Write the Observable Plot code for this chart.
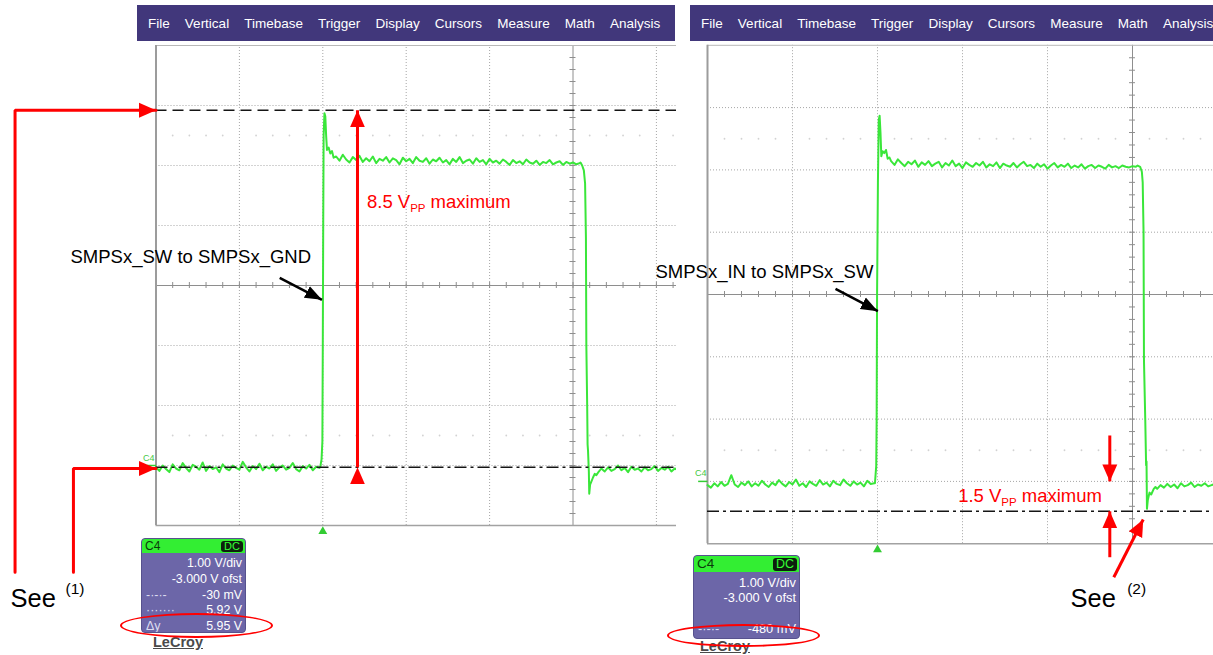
<!DOCTYPE html>
<html>
<head>
<meta charset="utf-8">
<title>SMPSx switching node waveforms</title>
<script src="https://cdn.jsdelivr.net/npm/d3@7"></script>
<script src="https://cdn.jsdelivr.net/npm/@observablehq/plot@0.6"></script>
<style>
  html,body{margin:0;padding:0;background:#fff;}
  #page{position:relative;width:1213px;height:655px;overflow:hidden;background:#fff;font-family:"Liberation Sans",Arial,Helvetica,sans-serif;}
  .menubar{position:absolute;top:5px;height:36px;background:#41377b;display:flex;align-items:center;gap:15.1px;padding-left:11px;box-sizing:border-box;color:#fff;font-size:13.5px;white-space:nowrap;overflow:hidden;}
  .layer{position:absolute;left:0;top:0;height:655px;overflow:hidden;}
  .scope-box{position:absolute;background:#6c66a8;border:1px solid #57528e;border-radius:4px;box-sizing:border-box;color:#fff;overflow:hidden;}
  .scope-box .hdr{position:absolute;left:0;right:0;top:0;background:#33ee33;border-radius:3px 3px 0 0;}
  .scope-box .ch{position:absolute;left:3px;top:0;color:#0b3a0b;}
  .scope-box .dc{position:absolute;right:2px;top:2px;background:#0d1f0d;color:#3f3;border-radius:3px;padding:0 3px;}
  .scope-box .row{position:absolute;left:4px;right:3px;white-space:nowrap;}
  .scope-box .row .l{position:absolute;left:0;top:0;color:#dcdcf0;}
  .scope-box .row .r{position:absolute;right:0;top:0;}
  .lecroy{position:absolute;font-weight:bold;color:#4a4a4a;text-decoration:underline;white-space:nowrap;}
  .ring{position:absolute;border:2.5px solid #f00;border-radius:50%;box-sizing:border-box;}
</style>
</head>
<body>
<div id="page">
  <div class="menubar" id="menuL" style="left:137px;width:538px"></div>
  <div class="menubar" id="menuR" style="left:690px;width:523px"></div>
  <div class="layer" id="leftWrap" style="width:676px"></div>
  <div class="layer" id="rightWrap" style="width:1213px"></div>
</div>
<script>
// ================= DATA =================
const menuItems = ["File","Vertical","Timebase","Trigger","Display","Cursors","Measure","Math","Analysis"];
const channelName = "C4";
const coupling = "DC";
const leftBoxRows = [["", "1.00 V/div"], ["", "-3.000 V ofst"], ["-·-·-", "-30 mV"], ["·······", "5.92 V"], ["Δy", "5.95 V"]];
const rightBoxRows = [["", "1.00 V/div"], ["", "-3.000 V ofst"], ["-·-·-", "-480 mV"]];
const brand = "LeCroy";

// time in divisions, voltage in V (1.00 V/div, -3.000 V offset)
const sampleStep = 0.04;

// Left capture: SMPSx_SW to SMPSx_GND
const leftLowStart = 0;
const leftLow = [-0.03,-0.09,0.00,-0.06,-0.11,0.02,-0.05,-0.08,0.04,-0.04,-0.10,0.01,-0.02,-0.07,0.05,-0.09,-0.01,-0.06,-0.03,-0.11,0.02,-0.05,-0.08,0.00,-0.04,-0.07,0.06,-0.03,-0.10,-0.01,-0.06,0.03,-0.08,-0.02,-0.05,0.02,-0.09,-0.03,0.00,-0.07,-0.04,0.04,-0.06,-0.10,-0.01,-0.05,0.01,-0.08,-0.02,-0.04];
const leftRise = [[1.97,-0.02],[1.985,0.1],[1.995,0.4],[2.0,2.0],[2.005,4.0],[2.01,5.5],[2.02,5.87],[2.03,5.82],[2.04,5.5],[2.05,5.26],[2.07,5.30],[2.09,5.20],[2.11,5.24],[2.13,5.13]];
const leftHighStart = 2.16;
const leftHigh = [5.15,5.08,5.18,5.10,5.05,5.14,5.09,5.16,5.06,5.12,5.07,5.15,5.04,5.11,5.08,5.14,5.05,5.12,5.09,5.02,5.13,5.07,5.11,5.04,5.14,5.08,5.06,5.12,5.03,5.10,5.07,5.13,5.05,5.09,5.02,5.11,5.06,5.14,5.04,5.08,5.10,5.03,5.12,5.06,5.09,5.02,5.11,5.05,5.08,5.03,5.10,5.06,5.01,5.09,5.04,5.07,5.02,5.10,5.05,5.03,5.08,5.01,5.06,5.04,5.09,5.02,5.05,5.07,5.01,5.06,5.03,5.05,5.02,5.04];
const leftFall = [[5.09,5.05],[5.11,5.00],[5.13,4.92],[5.145,4.7],[5.155,3.8],[5.16,2.0],[5.17,1.0],[5.175,0.35],[5.18,0.25],[5.19,-0.1],[5.195,-0.47],[5.205,-0.32],[5.22,-0.27],[5.24,-0.2],[5.26,-0.14],[5.28,-0.16]];
const leftPostStart = 5.30;
const leftPost = [-0.12,-0.05,-0.10,-0.03,-0.09,-0.06,0.00,-0.08,-0.04,-0.11,-0.02,-0.07,-0.05,-0.10,-0.03,-0.08,-0.06,-0.01,-0.09,-0.04,-0.07,-0.02,-0.10,-0.05,-0.08,-0.03,-0.06];
const leftCursorTop = 5.92;
const leftCursorBottom = -0.03;

// Right capture: SMPSx_IN to SMPSx_SW
const rightLowStart = 0;
const rightLow = [-0.06,-0.10,-0.03,-0.08,-0.01,-0.07,-0.04,0.10,-0.05,-0.09,-0.02,-0.06,0.00,-0.08,-0.03,-0.07,0.01,-0.05,-0.09,-0.02,-0.06,0.02,-0.04,-0.08,-0.01,-0.05,0.03,-0.07,-0.03,-0.09,0.00,-0.04,-0.07,0.02,-0.05,-0.02,-0.08,0.01,-0.04,-0.06,0.03,-0.03,-0.07,0.00,-0.05,-0.02,-0.08,0.01,-0.04,-0.03];
const rightRise = [[1.97,-0.03],[1.985,0.25],[1.99,1.0],[1.995,3.0],[2.005,4.8],[2.015,5.8],[2.025,5.87],[2.035,5.6],[2.045,5.22],[2.06,5.30],[2.08,5.27],[2.10,5.32],[2.12,5.18],[2.14,5.2]];
const rightHighStart = 2.16;
const rightHigh = [5.14,5.08,5.17,5.11,5.06,5.13,5.09,5.15,5.05,5.12,5.08,5.14,5.06,5.10,5.13,5.04,5.11,5.07,5.15,5.06,5.10,5.03,5.12,5.08,5.05,5.11,5.07,5.13,5.04,5.09,5.06,5.12,5.03,5.10,5.07,5.05,5.11,5.04,5.09,5.13,5.06,5.08,5.03,5.10,5.05,5.09,5.02,5.07,5.11,5.04,5.08,5.05,5.10,5.03,5.07,5.04,5.09,5.02,5.06,5.08,5.03,5.07,5.05,5.02,5.08,5.04,5.06,5.03,5.07,5.05,5.04,5.06,5.05];
const rightFall = [[5.06,5.07],[5.09,5.05],[5.11,4.97],[5.12,4.8],[5.13,4.0],[5.135,1.94],[5.15,1.0],[5.16,0.26],[5.165,0.32],[5.17,-0.44],[5.18,-0.30],[5.20,-0.18],[5.22,-0.21],[5.25,-0.12],[5.27,-0.09]];
const rightPostStart = 5.29;
const rightPost = [-0.12,-0.06,-0.10,-0.04,-0.09,-0.05,-0.11,-0.03,-0.08,-0.06,-0.02,-0.09,-0.05,-0.07,-0.03,-0.08,-0.06,-0.04,-0.07];
const rightCursor = -0.48;

// Annotations (data units: divisions, volts)
const leftTitle = [{t:-1.025, v:3.37, text:"SMPSx_SW to SMPSx_GND"}];
const leftTitleArrow = [{t1:1.483, v1:3.128, t2:1.99, v2:2.762}];
const leftLimitAt = {t:2.53, v:4.30};
const leftLimitText = ["8.5 V", "PP", "maximum"];
const leftLimitArrow = [{t:2.416, v1:leftCursorBottom, v2:leftCursorTop}];
const leftSeePaths = [
  {id:"a", t:-1.69, v:-1.78}, {id:"a", t:-1.69, v:leftCursorTop}, {id:"a", t:0, v:leftCursorTop},
  {id:"b", t:-0.99, v:-1.78}, {id:"b", t:-0.99, v:-0.05}, {id:"b", t:0, v:-0.05}
];
const leftSee = [{t:-1.745, v:-2.36, text:"See", note:"(1)", nt:-1.085, nv:-2.14}];

const rightTitle = [{t:-0.612, v:3.268, text:"SMPSx_IN to SMPSx_SW"}];
const rightTitleArrow = [{t1:1.506, v1:3.091, t2:2.004, v2:2.732}];
const rightLimitAt = {t:2.949, v:-0.334};
const rightLimitText = ["1.5 V", "PP", "maximum"];
const rightLimitArrows = [{t:4.733, v1:0.737, v2:0.0}, {t:4.733, v1:-1.217, v2:rightCursor}];
const rightSeeArrow = [{t1:4.78, v1:-1.538, t2:5.126, v2:-0.611}];
const rightSee = [{t:4.271, v:-2.02, text:"See", note:"(2)", nt:4.937, nv:-1.80}];

// ================= BUILD =================
function series(lowStart, low, rise, highStart, high, fall, postStart, post) {
  return [
    ...low.map((v, i) => ({t: lowStart + i * sampleStep, v})),
    ...rise.map(([t, v]) => ({t, v})),
    ...high.map((v, i) => ({t: highStart + i * sampleStep, v})),
    ...fall.map(([t, v]) => ({t, v})),
    ...post.map((v, i) => ({t: postStart + i * sampleStep, v}))
  ];
}
const leftWave = series(leftLowStart, leftLow, leftRise, leftHighStart, leftHigh, leftFall, leftPostStart, leftPost);
const rightWave = series(rightLowStart, rightLow, rightRise, rightHighStart, rightHigh, rightFall, rightPostStart, rightPost);

// menu bars
for (const id of ["menuL", "menuR"]) {
  const bar = document.getElementById(id);
  for (const m of menuItems) { const s = document.createElement("span"); s.textContent = m; bar.appendChild(s); }
}

const RED = "#ff0000", BLACK = "#000000", GREEN = "#3ae63a";
const FONT = "'Liberation Sans', Arial, Helvetica, sans-serif";

function gridMarks(dvTick, dtTick) {
  const majorT = [1,2,3,4,6,7,8,9];
  const majorV = [0,1,2,4,5,6];
  const minorT = d3.range(1, 50).map(i => i * 0.2);
  const minorV = d3.range(1, 40).map(i => -1 + i * 0.2);
  const faint = [];
  for (const v of [0.5, 5.5]) for (const t of minorT) if (Math.abs(t - Math.round(t)) > 0.05) faint.push({t, v});
  return [
    Plot.ruleX(majorT, {x: d => d, y1: -1, y2: 7, stroke: "#a6a6a6", strokeDasharray: "1,2"}),
    Plot.ruleY(majorV, {y: d => d, x1: 0, x2: 10, stroke: "#a6a6a6", strokeDasharray: "1,2"}),
    Plot.dot(faint, {x: "t", y: "v", r: 0.9, fill: "#d2d2d2"}),
    Plot.ruleX([5], {x: d => d, y1: -1, y2: 7, stroke: "#8e8e8e"}),
    Plot.ruleY([3], {y: d => d, x1: 0, x2: 10, stroke: "#8e8e8e"}),
    Plot.ruleX(minorT, {x: d => d, y1: 3 - dvTick, y2: 3 + dvTick, stroke: "#8e8e8e"}),
    Plot.ruleY(minorV, {y: d => d, x1: 5 - dtTick, x2: 5 + dtTick, stroke: "#8e8e8e"}),
    Plot.ruleY([7], {y: d => d, x1: 0, x2: 10, stroke: "#b8b8b8"}),
    Plot.ruleY([-1], {y: d => d, x1: 0, x2: 10, stroke: "#a2a2a2", strokeWidth: 1.5}),
    Plot.ruleX([0], {x: d => d, y1: -1, y2: 7, stroke: "#9c9c9c", strokeWidth: 2})
  ];
}

function channelMarks(tEnd) {
  return [
    Plot.link([{v: 0}], {x1: -0.11, x2: 0, y1: "v", y2: "v", stroke: "#3c3", strokeWidth: 1.5}),
    Plot.text([channelName], {x: tEnd, y: 0.13, text: d => d, textAnchor: "end", fontSize: 9, fill: "#45c845"}),
    Plot.dot([{t: 2}], {x: "t", y: -1, dy: 6, symbol: "triangle", r: 3.3, fill: "#3c3"})
  ];
}

function limitLabel(at, parts) {
  return [
    Plot.text([at], {x: "t", y: "v", text: () => parts[0], fill: RED, fontSize: 18.5, textAnchor: "start", lineAnchor: "bottom"}),
    Plot.text([at], {x: "t", y: "v", text: () => parts[1], dx: 43.2, dy: 4, fill: RED, fontSize: 11.5, textAnchor: "start", lineAnchor: "bottom"}),
    Plot.text([at], {x: "t", y: "v", text: () => parts[2], dx: 63.6, fill: RED, fontSize: 18.5, textAnchor: "start", lineAnchor: "bottom"})
  ];
}

function seeLabel(data) {
  return [
    Plot.text(data, {x: "t", y: "v", text: "text", fontSize: 25.5, fill: BLACK, textAnchor: "start", lineAnchor: "bottom"}),
    Plot.text(data, {x: "nt", y: "nv", text: "note", fontSize: 15.5, fill: BLACK, textAnchor: "start", lineAnchor: "bottom"})
  ];
}

function nameLabel(title, arrow) {
  return [
    Plot.text(title, {x: "t", y: "v", text: "text", fontSize: 18.5, fill: BLACK, textAnchor: "start", lineAnchor: "bottom"}),
    Plot.link(arrow, {x1: "t1", y1: "v1", x2: "t2", y2: "v2", stroke: BLACK, strokeWidth: 2.5, markerEnd: "arrow"})
  ];
}

function fillMarkers(svg) {
  svg.querySelectorAll("marker").forEach(m => {
    const c = (m.getAttribute("stroke") || "").toLowerCase();
    const isRed = c.includes("f00") || c === "red" || c.includes("255, 0, 0");
    const k = isRed ? 5.67 : 6.8;
    const hw = isRed ? 4.4 : 3.8;
    m.setAttribute("viewBox", "-10 -5 10 10");
    m.setAttribute("markerWidth", k);
    m.setAttribute("markerHeight", k);
    m.setAttribute("fill", c);
    m.setAttribute("stroke", "none");
    const p = m.querySelector("path");
    if (p) { p.setAttribute("d", `M-10,${-hw}L0,0L-10,${hw}Z`); p.setAttribute("stroke", "none"); }
  });
}

function panel(width, xRange, yRange, marks) {
  const svg = Plot.plot({
    width, height: 655, margin: 0,
    x: {domain: [0, 10], range: xRange, axis: null},
    y: {domain: [-1, 7], range: yRange, axis: null},
    style: {background: "transparent", fontFamily: FONT, overflow: "visible"},
    marks
  });
  fillMarkers(svg);
  return svg;
}

// Left panel
const leftSvg = panel(676, [155.5, 989.5], [525, 45], [
  ...gridMarks(0.05, 0.036),
  Plot.line(leftWave, {x: "t", y: "v", stroke: GREEN, strokeWidth: 2}),
  Plot.ruleY([leftCursorTop], {y: d => d, x1: 0, x2: 10, stroke: "#151515", strokeWidth: 1.6, strokeDasharray: "11,6"}),
  Plot.ruleY([leftCursorBottom], {y: d => d, x1: 0, x2: 10, stroke: "#151515", strokeWidth: 1.4, strokeDasharray: "12,4,3,4"}),
  ...channelMarks(-0.018),
  Plot.link(leftLimitArrow, {x1: "t", x2: "t", y1: "v1", y2: "v2", stroke: RED, strokeWidth: 3, markerStart: "arrow", markerEnd: "arrow"}),
  ...limitLabel(leftLimitAt, leftLimitText),
  ...nameLabel(leftTitle, leftTitleArrow),
  Plot.line(leftSeePaths, {x: "t", y: "v", z: "id", stroke: RED, strokeWidth: 3, strokeLinejoin: "miter", markerEnd: "arrow"}),
  ...seeLabel(leftSee)
]);
document.getElementById("leftWrap").appendChild(leftSvg);

// Right panel
const rightSvg = panel(1213, [707, 1557], [543.2, 44.8], [
  ...gridMarks(0.048, 0.035),
  Plot.line(rightWave, {x: "t", y: "v", stroke: GREEN, strokeWidth: 2}),
  Plot.ruleY([rightCursor], {y: d => d, x1: 0, x2: 10, stroke: "#151515", strokeWidth: 1.4, strokeDasharray: "12,4,3,4"}),
  ...channelMarks(-0.012),
  Plot.link(rightLimitArrows, {x1: "t", x2: "t", y1: "v1", y2: "v2", stroke: RED, strokeWidth: 3, markerEnd: "arrow"}),
  ...limitLabel(rightLimitAt, rightLimitText),
  ...nameLabel(rightTitle, rightTitleArrow),
  Plot.link(rightSeeArrow, {x1: "t1", y1: "v1", x2: "t2", y2: "v2", stroke: RED, strokeWidth: 3, markerEnd: "arrow"}),
  ...seeLabel(rightSee)
]);
document.getElementById("rightWrap").appendChild(rightSvg);

// Channel info boxes (scope UI)
function buildBox(spec, rows) {
  const page = document.getElementById("page");
  const box = document.createElement("div");
  box.className = "scope-box";
  Object.assign(box.style, {left: spec.left + "px", top: spec.top + "px", width: spec.width + "px", height: spec.height + "px", fontSize: spec.font + "px"});
  const hdr = document.createElement("div");
  hdr.className = "hdr"; hdr.style.height = spec.hdr + "px";
  const ch = document.createElement("span"); ch.className = "ch"; ch.textContent = channelName;
  Object.assign(ch.style, {fontSize: spec.hdrFont + "px", lineHeight: spec.hdr + "px"});
  const dc = document.createElement("span"); dc.className = "dc"; dc.textContent = coupling;
  Object.assign(dc.style, {fontSize: (spec.hdrFont - 1) + "px", lineHeight: (spec.hdr - 3) + "px"});
  hdr.appendChild(ch); hdr.appendChild(dc); box.appendChild(hdr);
  rows.forEach(([l, r], i) => {
    const row = document.createElement("div"); row.className = "row";
    Object.assign(row.style, {top: spec.rowTops[i] + "px", height: spec.font + "px", lineHeight: spec.font + "px"});
    const a = document.createElement("span"); a.className = "l"; a.textContent = l;
    const b = document.createElement("span"); b.className = "r"; b.textContent = r;
    row.appendChild(a); row.appendChild(b); box.appendChild(row);
  });
  page.appendChild(box);
  const lc = document.createElement("div"); lc.className = "lecroy"; lc.textContent = brand;
  Object.assign(lc.style, {left: spec.brandLeft + "px", top: spec.brandTop + "px", fontSize: spec.brandFont + "px", lineHeight: spec.brandFont + "px"});
  page.appendChild(lc);
  const ring = document.createElement("div"); ring.className = "ring";
  Object.assign(ring.style, {left: spec.ring[0] + "px", top: spec.ring[1] + "px", width: spec.ring[2] + "px", height: spec.ring[3] + "px"});
  page.appendChild(ring);
}
buildBox({left: 141, top: 538, width: 105, height: 95, hdr: 14, hdrFont: 12, font: 12.4, rowTops: [18, 34, 49.5, 65, 80.5],
  brandLeft: 153, brandTop: 635, brandFont: 14.5, ring: [120, 613, 153, 25]}, leftBoxRows);
buildBox({left: 693, top: 555, width: 107, height: 84, hdr: 16, hdrFont: 13.5, font: 12.8, rowTops: [21, 36, 67],
  brandLeft: 700, brandTop: 639, brandFont: 14.5, ring: [667, 624, 153, 23]}, rightBoxRows);
</script>
</body>
</html>
